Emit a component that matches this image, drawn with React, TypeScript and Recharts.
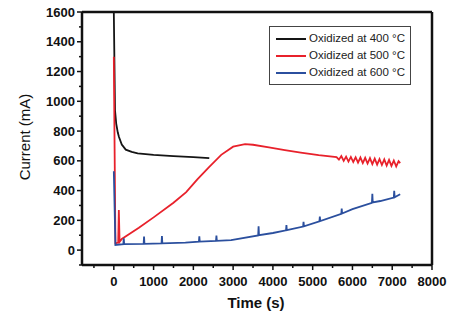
import { Line, LineChart, ReferenceLine, XAxis, YAxis } from "recharts"

// Oxidized at 400 °C
const time400 = [0, 30, 60, 100, 130, 200, 300, 450, 600, 1000, 1500, 2000, 2400]
const current400 = [1600, 940, 850, 790, 760, 710, 675, 660, 650, 640, 632, 625, 618]

// Oxidized at 500 °C
const time500 = [
  0, 40, 110, 126, 145, 200, 400, 630, 1000, 1500, 1820, 2100, 2400, 2700, 3000, 3300, 3500, 3900, 4300, 4700, 5150,
  5600, 5660, 5720, 5780, 5840, 5900, 5960, 6020, 6080, 6140, 6200, 6260, 6320, 6380, 6440, 6500, 6560, 6620, 6680,
  6740, 6800, 6860, 6920, 6980, 7040, 7100, 7160, 7200,
]
const current500 = [
  1300, 45, 50, 270, 55, 75, 110, 150, 220, 318, 390, 475, 560, 640, 695, 712, 708, 690, 672, 655, 638,
  625, 608, 632, 600, 628, 595, 626, 592, 624, 588, 622, 585, 620, 582, 618, 578, 615, 575, 612,
  572, 610, 568, 606, 566, 602, 562, 598, 585,
]

// Oxidized at 600 °C
const time600 = [
  0, 40, 240, 250, 260, 750, 760, 770, 1200, 1210, 1220, 1800, 2140, 2150, 2160, 2570, 2580, 2590, 2950, 3630, 3640,
  3650, 4000, 4330, 4340, 4350, 4760, 4770, 4780, 5170, 5180, 5190, 5720, 5730, 5740, 6000, 6490, 6500, 6510, 6700,
  7040, 7050, 7060, 7200,
]
const current600 = [
  530, 35, 40, 80, 40, 42, 92, 42, 45, 95, 45, 50, 57, 92, 57, 62, 97, 62, 67, 99, 160,
  100, 115, 133, 168, 134, 158, 190, 160, 194, 225, 195, 244, 280, 246, 275, 318, 378, 320, 330,
  353, 398, 355, 375,
]

const xTicks = [-500, 0, 500, 1000, 1500, 2000, 2500, 3000, 3500, 4000, 4500, 5000, 5500, 6000, 6500, 7000, 7500, 8000]
const yTicks = [-100, 0, 100, 200, 300, 400, 500, 600, 700, 800, 900, 1000, 1100, 1200, 1300, 1400, 1500, 1600]

const seriesNames = ["Oxidized at 400 °C", "Oxidized at 500 °C", "Oxidized at 600 °C"]
const seriesColors = ["#151515", "#e8212b", "#2b4f9e"]

const toPoints = (t: number[], c: number[]) => t.map((x, i) => ({ t: x, v: c[i] }))

const series = [
  { name: seriesNames[0], color: seriesColors[0], data: toPoints(time400, current400) },
  { name: seriesNames[1], color: seriesColors[1], data: toPoints(time500, current500) },
  { name: seriesNames[2], color: seriesColors[2], data: toPoints(time600, current600) },
]

const font = "'Liberation Sans', Arial, sans-serif"

function YTick(props: any) {
  const { x, y, payload } = props
  const major = payload.value % 200 === 0 && payload.value >= 0
  return (
    <g>
      <line x1={x - (major ? 5 : 3)} x2={x} y1={y} y2={y} stroke="#111" strokeWidth={1.5} />
      {major && (
        <text x={x - 7} y={y} dy={4.5} textAnchor="end" fontSize={13} fontWeight="bold" fill="#111" fontFamily={font}>
          {payload.value}
        </text>
      )}
    </g>
  )
}

function XTick(props: any) {
  const { x, y, payload } = props
  const major = payload.value % 1000 === 0
  return (
    <g>
      <line x1={x} x2={x} y1={y} y2={y + (major ? 5 : 3)} stroke="#111" strokeWidth={1.5} />
      {major && (
        <text x={x} y={y + 21} textAnchor="middle" fontSize={13} fontWeight="bold" fill="#111" fontFamily={font}>
          {payload.value}
        </text>
      )}
    </g>
  )
}

function LegendBox() {
  return (
    <div
      style={{
        position: "absolute",
        left: 269,
        top: 26,
        border: "1px solid #444",
        background: "#fff",
        padding: "3px 5px 3px 6px",
        fontFamily: font,
        fontSize: 11.5,
        color: "#222",
        lineHeight: "17px",
      }}
    >
      {series.map((s) => (
        <div key={s.name} style={{ display: "flex", alignItems: "center" }}>
          <span style={{ display: "inline-block", width: 30, height: 2, background: s.color, marginRight: 3 }} />
          {s.name}
        </div>
      ))}
    </div>
  )
}

export default function App() {
  return (
    <div style={{ position: "absolute", left: 0, top: 0, width: 449, height: 321, background: "#fff" }}>
      <LineChart width={449} height={321} margin={{ top: 12, right: 17, left: 32, bottom: 26 }}>
        <XAxis
          type="number"
          dataKey="t"
          domain={[-800, 8000]}
          ticks={xTicks}
          interval={0}
          tick={<XTick />}
          tickLine={false}
          tickSize={0}
          tickMargin={0}
          height={30}
          axisLine={{ stroke: "#111", strokeWidth: 2.5 }}
          allowDataOverflow
        />
        <YAxis
          type="number"
          dataKey="v"
          domain={[-100, 1600]}
          ticks={yTicks}
          interval={0}
          tick={<YTick />}
          tickLine={false}
          tickSize={0}
          tickMargin={0}
          width={50}
          axisLine={{ stroke: "#111", strokeWidth: 2.5 }}
          allowDataOverflow
        />
        <ReferenceLine y={1600} stroke="#111" strokeWidth={2.5} />
        <ReferenceLine x={8000} stroke="#111" strokeWidth={2.5} />
        {series.map((s) => (
          <Line
            key={s.name}
            data={s.data}
            dataKey="v"
            name={s.name}
            type="linear"
            stroke={s.color}
            strokeWidth={1.8}
            dot={false}
            isAnimationActive={false}
          />
        ))}
      </LineChart>
      <LegendBox />
      <div
        style={{
          position: "absolute",
          left: 24,
          top: 137,
          transform: "translate(-50%, -50%) rotate(-90deg)",
          fontFamily: font,
          fontSize: 15,
          color: "#111",
          whiteSpace: "nowrap",
        }}
      >
        Current (mA)
      </div>
      <div
        style={{
          position: "absolute",
          left: 256,
          top: 302,
          transform: "translate(-50%, -50%)",
          fontFamily: font,
          fontSize: 15,
          fontWeight: "bold",
          color: "#111",
          whiteSpace: "nowrap",
        }}
      >
        Time (s)
      </div>
    </div>
  )
}
